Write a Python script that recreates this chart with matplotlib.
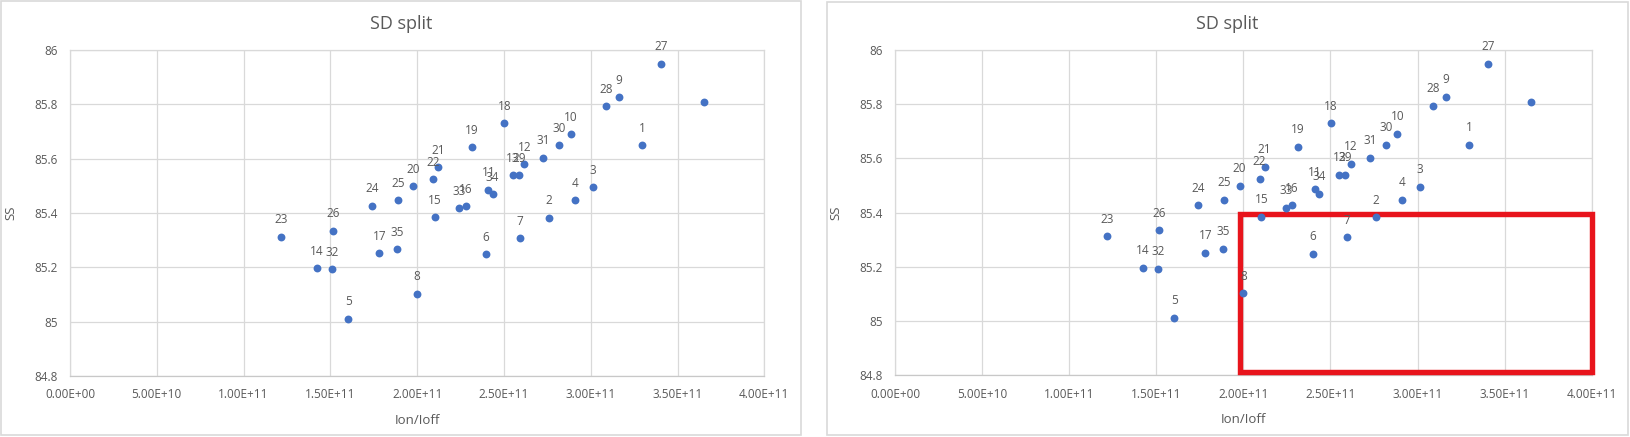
import matplotlib
matplotlib.use("Agg")
import matplotlib.pyplot as plt
from matplotlib.patches import Rectangle
from matplotlib.ticker import FuncFormatter, MultipleLocator

# ---- data (Ion/Ioff, SS, point label) ----
labels = ["1", "2", "3", "4", "5", "6", "7", "8", "9", "10",
          "11", "12", "13", "14", "15", "16", "17", "18", "19", "20",
          "21", "22", "23", "24", "25", "26", "27", "28", "29", "30",
          "31", "32", "33", "34", "35", ""]
ion_ioff = [3.297e11, 2.761e11, 3.014e11, 2.911e11, 1.603e11, 2.398e11, 2.594e11, 2.000e11, 3.164e11, 2.884e11,
            2.410e11, 2.617e11, 2.552e11, 1.421e11, 2.104e11, 2.279e11, 1.782e11, 2.502e11, 2.314e11, 1.978e11,
            2.122e11, 2.093e11, 1.217e11, 1.741e11, 1.888e11, 1.517e11, 3.406e11, 3.089e11, 2.585e11, 2.819e11,
            2.726e11, 1.511e11, 2.243e11, 2.435e11, 1.885e11, 3.650e11]
ss = [85.650, 85.382, 85.496, 85.448, 85.011, 85.248, 85.308, 85.103, 85.827, 85.691,
      85.485, 85.580, 85.540, 85.196, 85.385, 85.426, 85.252, 85.730, 85.643, 85.499,
      85.569, 85.525, 85.312, 85.427, 85.448, 85.335, 85.949, 85.794, 85.540, 85.650,
      85.603, 85.193, 85.418, 85.470, 85.267, 85.809]

title = "SD split"
x_title = "Ion/Ioff"
y_title = "SS"
# highlighted region on the right chart: (x0, x1, y0, y1)
highlight = (1.98e11, 4.003e11, 84.81, 85.393)

W, H = 1630, 437
TXT = "#595959"
GRID = "#D9D9D9"
MARK = "#4472C4"
FONT = ["Open Sans", "DejaVu Sans"]
plt.rcParams["font.family"] = FONT

fig = plt.figure(figsize=(W / 100, H / 100), dpi=100)
fig.patch.set_facecolor("white")


def px_axes(x0, x1, ytop, ybot):
    return fig.add_axes([x0 / W, 1 - ybot / H, (x1 - x0) / W, (ybot - ytop) / H])


def frame(x0, x1, ytop, ybot):
    fig.patches.append(Rectangle((x0 / W, 1 - ybot / H), (x1 - x0) / W, (ybot - ytop) / H,
                                 transform=fig.transFigure, fill=False,
                                 edgecolor=GRID, linewidth=1.2))


def draw_chart(ax, frame_center_px):
    ax.scatter(ion_ioff, ss, s=32, color=MARK, zorder=3.5, linewidths=0)
    for xv, yv, lab in zip(ion_ioff, ss, labels):
        if lab:
            ax.annotate(lab, (xv, yv), xytext=(0, 7.5), textcoords="offset points",
                        ha="center", va="bottom", fontsize=8.5, color=TXT, zorder=5)
    ax.set_xlim(0, 4e11)
    ax.set_ylim(84.8, 86)
    ax.xaxis.set_major_locator(MultipleLocator(5e10))
    ax.yaxis.set_major_locator(MultipleLocator(0.2))
    ax.xaxis.set_major_formatter(FuncFormatter(lambda v, p: f"{v:.2E}"))
    ax.yaxis.set_major_formatter(FuncFormatter(lambda v, p: f"{v:g}"))
    ax.grid(True, color=GRID, linewidth=0.9)
    ax.set_axisbelow(True)
    for s in ax.spines.values():
        s.set_color(GRID)
        s.set_linewidth(0.9)
    ax.spines["bottom"].set_color("#C8C8C8")
    ax.tick_params(length=0, labelsize=8.5, labelcolor=TXT, pad=9)
    ax.set_xlabel(x_title, fontsize=9.5, color=TXT, labelpad=9)
    ax.set_ylabel(y_title, fontsize=9.5, color=TXT, labelpad=12)
    fig.text(frame_center_px / W, 1 - 24 / H, title, ha="center", va="center",
             fontsize=13, color=TXT)


# left chart
frame(1, 801, 1, 435)
axL = px_axes(70, 764.3, 50, 376)
draw_chart(axL, 401)

# right chart
frame(827, 1628, 2, 435)
axR = px_axes(895, 1591.7, 50, 375)
draw_chart(axR, 1227.5)
hx0, hx1, hy0, hy1 = highlight
axR.add_patch(Rectangle((hx0, hy0), hx1 - hx0, hy1 - hy0, fill=False,
                        edgecolor="#E8141C", linewidth=3.9, zorder=3, clip_on=False))

fig.savefig("out.png", dpi=100, facecolor="white")
